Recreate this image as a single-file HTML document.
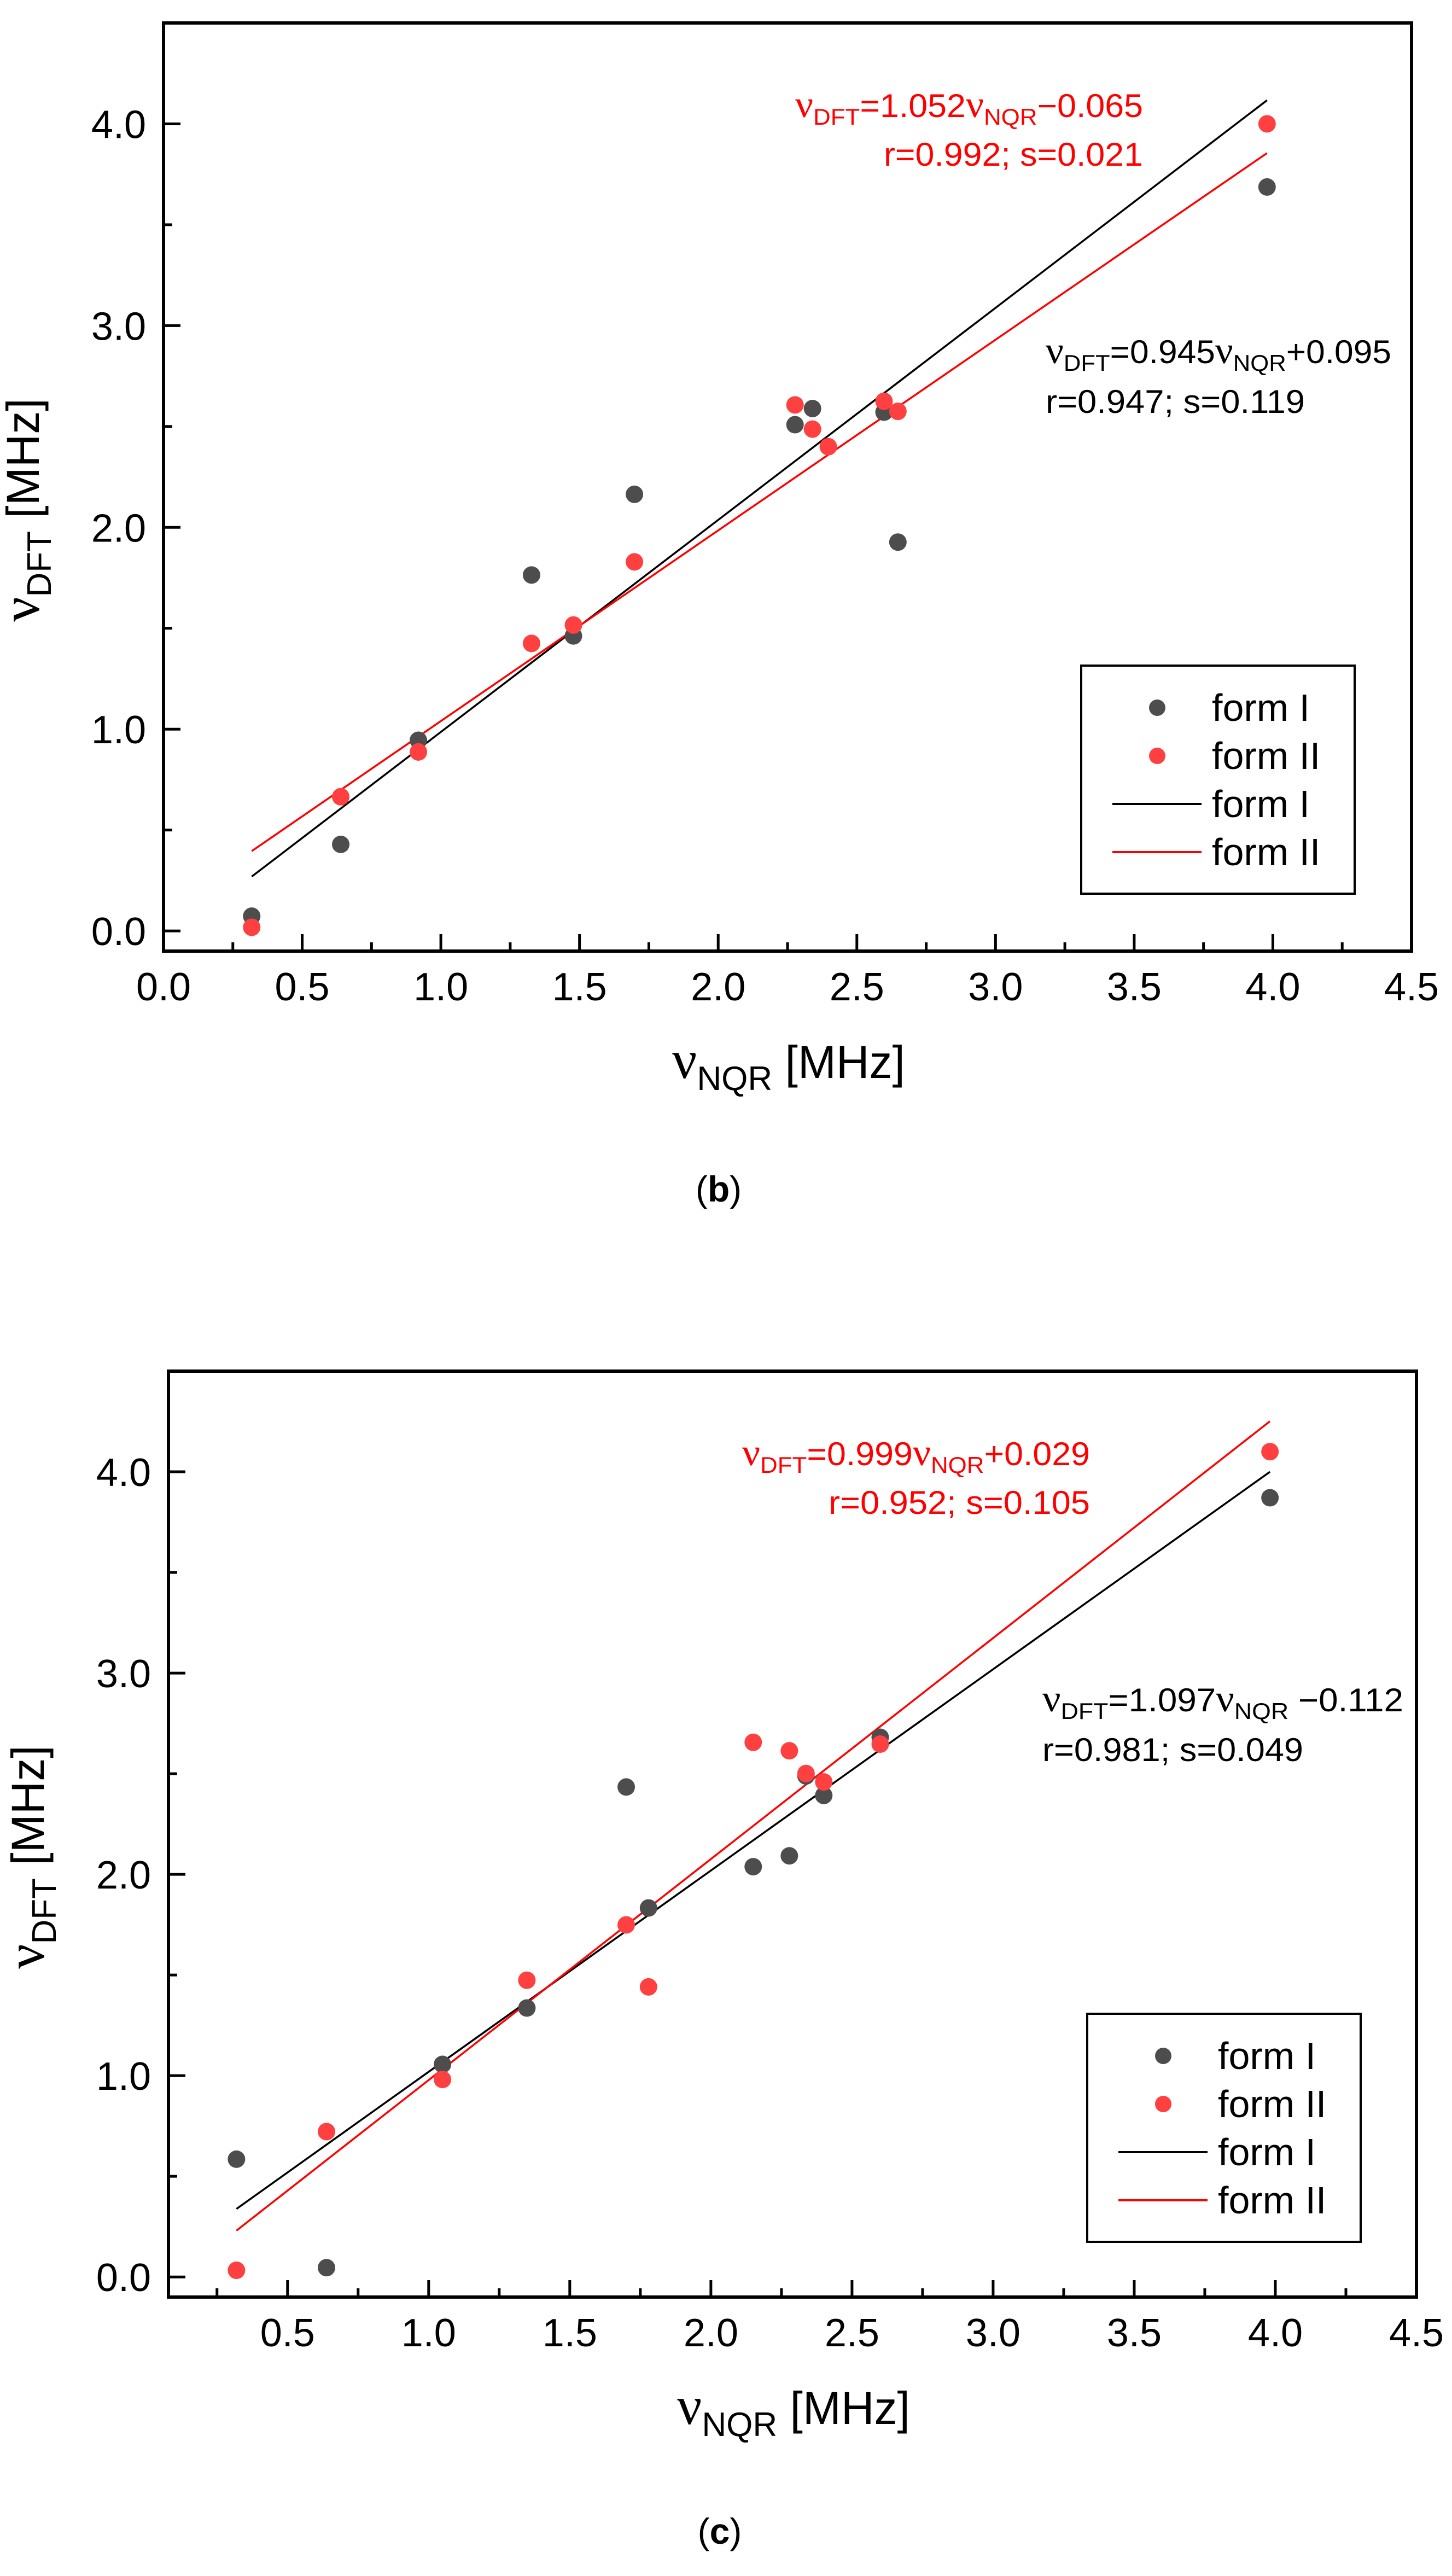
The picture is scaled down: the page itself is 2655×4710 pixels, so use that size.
<!DOCTYPE html>
<html><head><meta charset="utf-8">
<style>
html,body{margin:0;padding:0;background:#fff;}
svg{display:block;}
text{font-family:"Liberation Sans",Arial,sans-serif;}
</style></head>
<body>
<svg id="fig" width="2655" height="4710" viewBox="0 0 2655 4710" xmlns="http://www.w3.org/2000/svg"></svg>
<script>
// ---- Panel (b) data ----
const bXForm1 = [0.318,0.639,0.919,1.327,1.478,1.698,2.277,2.340,2.598,2.648,3.979];
const bYForm1 = [0.073,0.429,0.945,1.764,1.462,2.164,2.509,2.589,2.571,1.927,3.687];
const bXForm2 = [0.318,0.639,0.919,1.327,1.478,1.698,2.277,2.340,2.397,2.598,2.648,3.979];
const bYForm2 = [0.018,0.665,0.887,1.425,1.516,1.829,2.607,2.487,2.400,2.625,2.575,4.000];
const bFit1 = [1.051,-0.065];
const bFit2 = [0.945,0.095];
const bXTicks = [0.0,0.5,1.0,1.5,2.0,2.5,3.0,3.5,4.0,4.5];
const bXTickLabels = ["0.0","0.5","1.0","1.5","2.0","2.5","3.0","3.5","4.0","4.5"];
const yTicks = [0.0,1.0,2.0,3.0,4.0];
const yTickLabels = ["0.0","1.0","2.0","3.0","4.0"];
// ---- Panel (c) data ----
const cXForm1 = [0.319,0.638,1.049,1.348,1.700,1.779,2.150,2.278,2.337,2.400,2.600,3.981];
const cYForm1 = [0.585,0.046,1.056,1.336,2.434,1.833,2.038,2.092,2.489,2.392,2.681,3.871];
const cXForm2 = [0.319,0.638,1.049,1.348,1.700,1.779,2.150,2.278,2.337,2.400,2.600,3.981];
const cYForm2 = [0.033,0.722,0.981,1.474,1.749,1.441,2.656,2.614,2.501,2.459,2.647,4.100];
const cFit1 = [1.000,0.019];
const cFit2 = [1.098,-0.120];
const cXTicks = [0.5,1.0,1.5,2.0,2.5,3.0,3.5,4.0,4.5];
const cXTickLabels = ["0.5","1.0","1.5","2.0","2.5","3.0","3.5","4.0","4.5"];

const NS = "http://www.w3.org/2000/svg";
const svg = document.getElementById('fig');
function mk(tag, attrs, parent){
  const e = document.createElementNS(NS, tag);
  for (const k in attrs) e.setAttribute(k, attrs[k]);
  (parent||svg).appendChild(e);
  return e;
}

function panel(cfg){
  const g = mk('g', {});
  
  
  const sx = v => cfg.L + (v - cfg.xmin) / (cfg.xmax - cfg.xmin) * (cfg.R - cfg.L);
  const sy = v => cfg.B - (v - cfg.ymin) / (cfg.ymax - cfg.ymin) * (cfg.B - cfg.T);

  // ticks
  for (let v = 0; v <= 4.5001; v += 0.25){
    if (v < cfg.xmin) continue;
    const major = Math.abs(v*2 - Math.round(v*2)) < 1e-6;
    const t = mk('line', {x1:sx(v), x2:sx(v), y1:cfg.B, y2:cfg.B-(major?31:16), stroke:'#000','stroke-width':5}, g);
    
    
  }
  for (let v = 0; v <= 4.5001; v += 0.5){
    const major = Math.abs(v - Math.round(v)) < 1e-6;
    const t = mk('line', {x1:cfg.L, x2:cfg.L+(major?31:16), y1:sy(v), y2:sy(v), stroke:'#000','stroke-width':5}, g);
    
    
  }
  cfg.xt.forEach((v,i)=>{
    const t = mk('text', {x:sx(v), y:cfg.B+90, 'font-size':72, 'text-anchor':'middle', fill:'#000'}, g);
    t.textContent = cfg.xl[i];
    
    
  });
  yTicks.forEach((v,i)=>{
    const t = mk('text', {x:cfg.L-32, y:sy(v)+26, 'font-size':72, 'text-anchor':'end', fill:'#000'}, g);
    t.textContent = yTickLabels[i];
    
    
  });

  // fit lines
  const x0 = Math.min(...cfg.x1), x1 = Math.max(...cfg.x1);
  [[cfg.f1,'#000','fit-line-form-1'],[cfg.f2,'#ff0000','fit-line-form-2']].forEach(([f,c,n])=>{
    const l = mk('line', {x1:sx(x0), y1:sy(f[0]*x0+f[1]), x2:sx(x1), y2:sy(f[0]*x1+f[1]), stroke:c, 'stroke-width':3.5}, g);
    
    
  });
  // points
  cfg.x1.forEach((x,i)=>{
    const p = mk('circle', {cx:sx(x), cy:sy(cfg.y1[i]), r:16, fill:'#4d4d4d'}, g);
    
    
  });
  cfg.x2.forEach((x,i)=>{
    const p = mk('circle', {cx:sx(x), cy:sy(cfg.y2[i]), r:16, fill:'#ff4040'}, g);
    
    
  });

  // frame
  const fr = mk('rect', {x:cfg.L, y:cfg.T, width:cfg.R-cfg.L, height:cfg.B-cfg.T, fill:'none', stroke:'#000', 'stroke-width':6}, g);
  
  

  // axis titles
  const xt = mk('text', {x:(cfg.L+cfg.R)/2+2, y:cfg.B+232, 'text-anchor':'middle', fill:'#000'}, g);
  
  
  xt.innerHTML = '<tspan font-family="Liberation Serif" font-size="100">ν</tspan><tspan font-size="62" dy="22">NQR</tspan><tspan font-size="84" dy="-22"> [MHz]</tspan>';
  const cy = (cfg.T+cfg.B)/2 + 42;
  const yt = mk('text', {x:0, y:0, 'text-anchor':'middle', fill:'#000', transform:`translate(${cfg.L-228},${cy}) rotate(-90)`}, g);
  
  
  yt.innerHTML = '<tspan font-family="Liberation Serif" font-size="100">ν</tspan><tspan font-size="62" dy="22">DFT</tspan><tspan font-size="84" dy="-22"> [MHz]</tspan>';

  // equations
  const e1 = mk('text', {x:cfg.redR, y:cfg.T+172, 'text-anchor':'end', fill:'#ff0000', 'font-size':60, textLength:cfg.redW1, lengthAdjust:'spacingAndGlyphs'}, g);
  
  
  e1.innerHTML = cfg.redEq;
  const e2 = mk('text', {x:cfg.redR, y:cfg.T+261, 'text-anchor':'end', fill:'#ff0000', 'font-size':60, textLength:cfg.redW2, lengthAdjust:'spacingAndGlyphs'}, g);
  
  
  e2.textContent = cfg.redStats;
  const e3 = mk('text', {x:cfg.blkL, y:cfg.T+622, fill:'#000', 'font-size':60, textLength:cfg.blkW1, lengthAdjust:'spacingAndGlyphs'}, g);
  
  
  e3.innerHTML = cfg.blkEq;
  const e4 = mk('text', {x:cfg.blkL, y:cfg.T+713, fill:'#000', 'font-size':60, textLength:cfg.blkW2, lengthAdjust:'spacingAndGlyphs'}, g);
  
  
  e4.textContent = cfg.blkStats;

  // legend
  const lx = cfg.legL, ly = cfg.T + 1175;
  const lg = mk('g', {}, g);
  
  
  mk('rect', {x:lx, y:ly, width:500, height:417, fill:'#fff', stroke:'#000', 'stroke-width':4}, lg);
  const rows = [['dot','#4d4d4d','form I'],['dot','#ff4040','form II'],['line','#000','form I'],['line','#ff0000','form II']];
  rows.forEach((r,i)=>{
    const cyr = ly + 77 + i*88;
    const eg = mk('g', {}, lg);
    
    
    if (r[0]==='dot') mk('circle', {cx:lx+139, cy:cyr, r:15, fill:r[1]}, eg);
    else mk('line', {x1:lx+57, x2:lx+220, y1:cyr, y2:cyr, stroke:r[1], 'stroke-width':4}, eg);
    const t = mk('text', {x:lx+239, y:cyr+24, 'font-size':70, fill:'#000'}, eg);
    t.textContent = r[2];
  });

  // caption
  const cap = mk('text', {x:cfg.capX, y:cfg.capY, 'text-anchor':'middle', 'font-family':'Liberation Serif', 'font-size':66, fill:'#000'}, g);
  
  
  cap.innerHTML = '(<tspan font-weight="bold">' + cfg.cap + '</tspan>)';
}

const sub = (s)=>`<tspan font-size="42" dy="14">${s}</tspan>`;
const nu = '<tspan font-family="Liberation Serif" font-size="70">ν</tspan>';

panel({name:'panel-b', L:299, R:2581, T:42, B:1739, xmin:0, xmax:4.5, ymin:-0.1, ymax:4.5,
  xt:bXTicks, xl:bXTickLabels, x1:bXForm1, y1:bYForm1, x2:bXForm2, y2:bYForm2, f1:bFit1, f2:bFit2,
  redR:2090, redW1:636, redW2:474, blkL:1912, blkW1:632, blkW2:474,
  redEq: nu + sub('DFT') + '<tspan dy="-14">=1.052</tspan>' + nu + sub('NQR') + '<tspan dy="-14">−0.065</tspan>',
  redStats:'r=0.992; s=0.021',
  blkEq: nu + sub('DFT') + '<tspan dy="-14">=0.945</tspan>' + nu + sub('NQR') + '<tspan dy="-14">+0.095</tspan>',
  blkStats:'r=0.947; s=0.119',
  legL:1977, capX:1314, capY:2197, cap:'b'});

panel({name:'panel-c', L:308, R:2590, T:2507, B:4200, xmin:0.078, xmax:4.5, ymin:-0.1, ymax:4.5,
  xt:cXTicks, xl:cXTickLabels, x1:cXForm1, y1:cYForm1, x2:cXForm2, y2:cYForm2, f1:cFit1, f2:cFit2,
  redR:1993, redW1:636, redW2:478, blkL:1906, blkW1:660, blkW2:477,
  redEq: nu + sub('DFT') + '<tspan dy="-14">=0.999</tspan>' + nu + sub('NQR') + '<tspan dy="-14">+0.029</tspan>',
  redStats:'r=0.952; s=0.105',
  blkEq: nu + sub('DFT') + '<tspan dy="-14">=1.097</tspan>' + nu + sub('NQR') + '<tspan dy="-14"> −0.112</tspan>',
  blkStats:'r=0.981; s=0.049',
  legL:1988, capX:1316, capY:4651, cap:'c'});
</script>
</body></html>
